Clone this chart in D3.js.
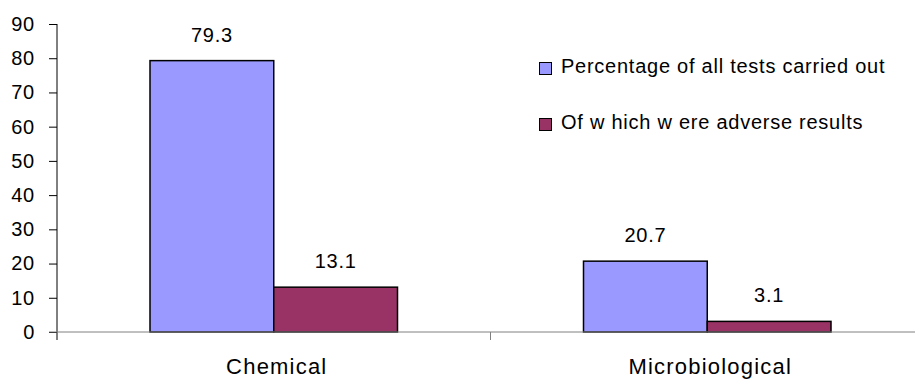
<!DOCTYPE html>
<html><head><meta charset="utf-8">
<script src="https://cdn.jsdelivr.net/npm/d3@7"></script>
<style>body{margin:0;background:#fff}text{font-family:"Liberation Sans",Arial,sans-serif;fill:#000}</style>
</head><body>
<svg id="c" width="915" height="381"></svg>
<script>
(function(){
const categories = ["Chemical", "Microbiological"];
const seriesNames = ["Percentage of all tests carried out", "Of w hich w ere adverse results"];
const allTests = [79.3, 20.7];
const adverse = [13.1, 3.1];
const yTicks = [0, 10, 20, 30, 40, 50, 60, 70, 80, 90];
const colors = ["#9999FF", "#993366"];

const svg = d3.select("#c");
const mLeft = 57, mRight = 924, mTop = 24, mBottom = 332;
const x = d3.scaleBand().domain(categories).range([mLeft, mRight]).paddingInner(0).paddingOuter(0);
const y = d3.scaleLinear().domain([0, 90]).range([mBottom, mTop]);
const inner = d3.scaleBand().domain([0, 1]).range([93, x.bandwidth() - 93]);
const fs = 20, ls = "0.75px";

// y axis
const ya = svg.append("g").attr("transform", `translate(${mLeft},0)`)
  .call(d3.axisLeft(y).tickValues(yTicks).tickSize(8).tickPadding(14).tickFormat(d3.format("d")));
ya.select(".domain").remove();
ya.selectAll("line").attr("stroke", "#000");
ya.selectAll("text").style("font-size", fs + "px").style("letter-spacing", ls)
  .attr("font-family", "Liberation Sans, Arial, sans-serif");
svg.append("line").attr("x1", mLeft).attr("x2", mLeft).attr("y1", y(90)).attr("y2", mBottom + 8).attr("stroke", "#000");

// bars
const data = categories.map((c, i) => ({ c, vals: [allTests[i], adverse[i]] }));
const g = svg.selectAll("g.cat").data(data).join("g").attr("class", "cat")
  .attr("transform", d => `translate(${x(d.c)},0)`);
g.selectAll("rect").data(d => d.vals.map((v, k) => ({ v, k }))).join("rect")
  .attr("x", d => inner(d.k)).attr("width", inner.bandwidth())
  .attr("y", d => y(d.v)).attr("height", d => mBottom - y(d.v))
  .attr("fill", d => colors[d.k]).attr("stroke", "#000").attr("stroke-width", 1.5);
g.selectAll("text.val").data(d => d.vals.map((v, k) => ({ v, k }))).join("text").attr("class", "val")
  .attr("x", d => inner(d.k) + inner.bandwidth() / 2).attr("y", d => y(d.v) - 19)
  .attr("text-anchor", "middle").style("font-size", fs + "px").style("letter-spacing", ls)
  .text(d => d3.format(".1f")(d.v));

// x axis
const xa = svg.append("g").attr("transform", `translate(0,${mBottom})`)
  .call(d3.axisBottom(x).tickSize(0).tickPadding(42));
xa.select(".domain").remove();
xa.selectAll("text").attr("dy", "0").attr("dx", "3")
  .style("font-size", "22px").style("letter-spacing", "1.2px")
  .attr("font-family", "Liberation Sans, Arial, sans-serif");
svg.append("line").attr("x1", mLeft - 8).attr("x2", 915).attr("y1", mBottom).attr("y2", mBottom).attr("stroke", "#808080").attr("stroke-width", 1);
svg.append("line").attr("x1", x(categories[1])).attr("x2", x(categories[1])).attr("y1", mBottom).attr("y2", mBottom + 8).attr("stroke", "#808080");

// legend
const lg = svg.append("g");
seriesNames.forEach((s, i) => {
  const base = 73 + i * 56;
  lg.append("rect").attr("x", 539.5).attr("y", base - 10.5).attr("width", 12).attr("height", 12)
    .attr("fill", colors[i]).attr("stroke", "#000").attr("stroke-width", 1);
  lg.append("text").attr("x", 561).attr("y", base).style("font-size", fs + "px").style("letter-spacing", ls).text(s);
});
})();
</script>
</body></html>
